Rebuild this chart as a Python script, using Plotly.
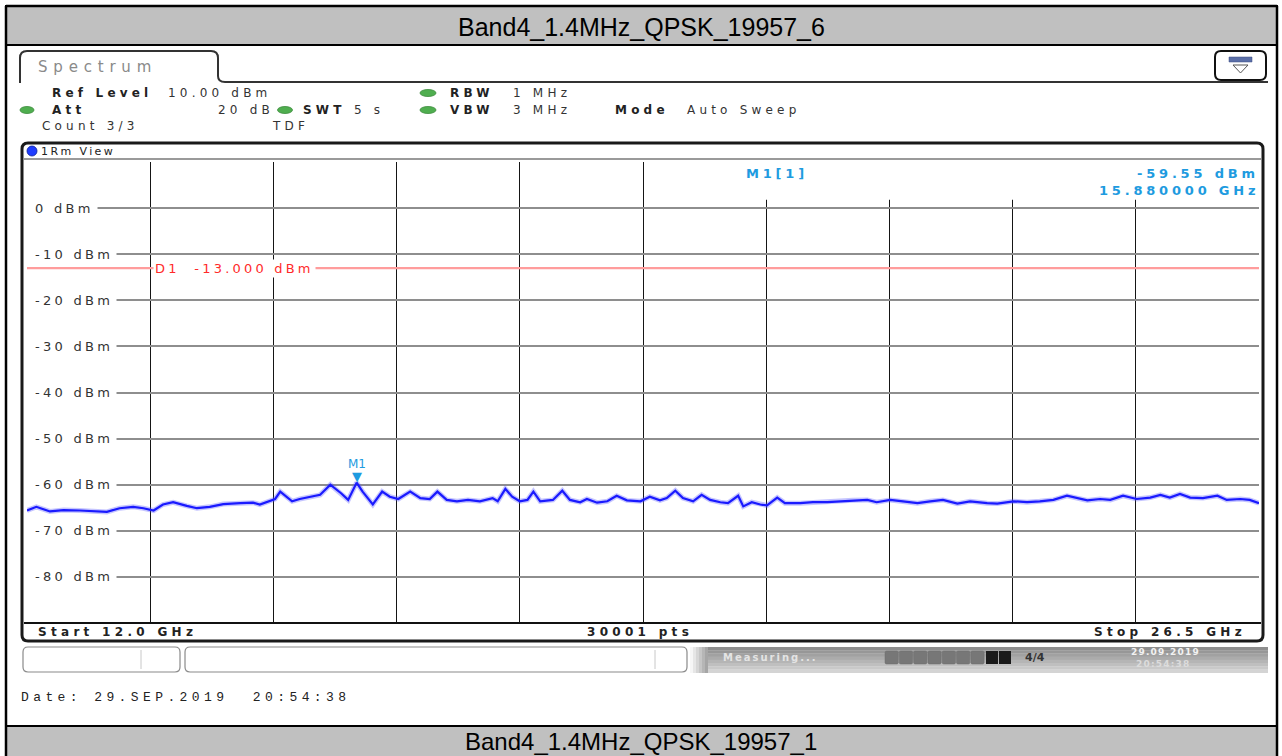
import plotly.graph_objects as go

# ---------------- data ----------------
freq_ghz = [12.00, 12.11, 12.27, 12.43, 12.62, 12.82, 12.94, 13.09, 13.25, 13.37, 13.49, 13.60, 13.72, 13.88,
            14.00, 14.15, 14.31, 14.51, 14.66, 14.74, 14.86, 14.92, 14.98, 15.06, 15.12, 15.21, 15.33, 15.45,
            15.57, 15.70, 15.78, 15.88, 15.95, 16.07, 16.18, 16.27, 16.37, 16.51, 16.63, 16.74, 16.83, 16.94,
            17.06, 17.19, 17.33, 17.48, 17.54, 17.63, 17.71, 17.80, 17.89, 17.96, 18.04, 18.19, 18.30, 18.39,
            18.51, 18.59, 18.71, 18.83, 18.94, 19.06, 19.22, 19.33, 19.45, 19.53, 19.63, 19.72, 19.84, 19.94,
            20.04, 20.16, 20.25, 20.37, 20.43, 20.53, 20.63, 20.71, 20.83, 20.92, 21.10, 21.25, 21.42, 21.57,
            21.72, 21.89, 22.00, 22.16, 22.31, 22.48, 22.63, 22.78, 22.95, 23.10, 23.30, 23.42, 23.61, 23.77,
            23.92, 24.08, 24.24, 24.36, 24.48, 24.63, 24.75, 24.90, 25.06, 25.22, 25.34, 25.45, 25.57, 25.69,
            25.84, 26.01, 26.12, 26.28, 26.39, 26.50]
level_dbm = [-65.6, -64.8, -65.8, -65.5, -65.6, -65.7, -65.9, -65.1, -64.8, -65.1, -65.6, -64.3, -63.8, -64.6,
             -65.1, -64.8, -64.2, -64.0, -63.9, -64.3, -63.6, -63.1, -61.5, -62.6, -63.6, -63.1, -62.6, -62.2,
             -60.0, -61.9, -63.3, -59.55, -61.5, -64.3, -61.5, -62.6, -63.1, -61.5, -62.9, -63.1, -61.5, -63.3,
             -63.6, -63.3, -63.6, -62.9, -63.6, -60.9, -62.6, -63.6, -63.3, -61.5, -63.6, -63.3, -61.3, -63.3,
             -63.8, -63.1, -63.9, -63.6, -62.4, -63.4, -63.6, -62.6, -63.4, -62.9, -61.3, -62.9, -63.6, -62.2,
             -63.3, -63.8, -64.0, -62.4, -64.7, -63.8, -64.3, -64.5, -62.8, -64.0, -64.0, -63.8, -63.8, -63.6,
             -63.4, -63.3, -63.8, -63.3, -63.6, -64.0, -63.6, -63.3, -64.1, -63.6, -64.0, -64.1, -63.6, -63.8,
             -63.6, -63.3, -62.4, -62.9, -63.4, -63.1, -63.3, -62.4, -63.1, -62.8, -62.2, -62.8, -62.0, -62.8,
             -62.9, -62.4, -63.3, -63.1, -63.3, -64.0]
y_tick_dbm = [0, -10, -20, -30, -40, -50, -60, -70, -80]
y_range_dbm = [-90, 10]
start_ghz = 12.0
stop_ghz = 26.5
n_divisions = 10
n_points = 30001
d1_level_dbm = -13.0
m1_freq_ghz = 15.88
m1_level_dbm = -59.55
title_top = "Band4_1.4MHz_QPSK_19957_6"
title_bottom = "Band4_1.4MHz_QPSK_19957_1"
date_text = "Date: 29.SEP.2019\u00a0\u00a020:54:38"

# ---------------- helpers ----------------
W, H = 1282, 756
shapes, annots = [], []


def PX(x):
    return x / W


def PY(y):
    return 1 - y / H


def rect(x0, y0, x1, y1, fill="rgba(0,0,0,0)", line="rgba(0,0,0,0)", lw=0, layer="above"):
    shapes.append(dict(type="rect", xref="paper", yref="paper", x0=PX(x0), x1=PX(x1), y0=PY(y1), y1=PY(y0),
                       fillcolor=fill, line=dict(color=line, width=lw), layer=layer))


def hline(x0, x1, y, color, lw):
    shapes.append(dict(type="line", xref="paper", yref="paper", x0=PX(x0), x1=PX(x1), y0=PY(y), y1=PY(y),
                       line=dict(color=color, width=lw)))


def vline(x, y0, y1, color, lw):
    shapes.append(dict(type="line", xref="paper", yref="paper", x0=PX(x), x1=PX(x), y0=PY(y0), y1=PY(y1),
                       line=dict(color=color, width=lw)))


def P(x, y):
    return f"{PX(x):.5f},{PY(y):.5f}"


def rrect(x0, y0, x1, y1, r, line="#222", lw=2, fill="rgba(0,0,0,0)"):
    path = (f"M{P(x0 + r, y0)} L{P(x1 - r, y0)} Q{P(x1, y0)} {P(x1, y0 + r)} L{P(x1, y1 - r)} "
            f"Q{P(x1, y1)} {P(x1 - r, y1)} L{P(x0 + r, y1)} Q{P(x0, y1)} {P(x0, y1 - r)} "
            f"L{P(x0, y0 + r)} Q{P(x0, y0)} {P(x0 + r, y0)} Z")
    shapes.append(dict(type="path", xref="paper", yref="paper", path=path, fillcolor=fill,
                       line=dict(color=line, width=lw)))


def dot(xc, yc, w, h, color="#4fae4f", edge="#3a8a3a"):
    shapes.append(dict(type="circle", xref="paper", yref="paper", x0=PX(xc - w / 2), x1=PX(xc + w / 2),
                       y0=PY(yc + h / 2), y1=PY(yc - h / 2), fillcolor=color, line=dict(color=edge, width=0.8)))


def txt(x, y, s, size=12, color="#222", bold=False, anchor="left", family="DejaVu Sans", ls=None, bg=None):
    t = s
    if ls:
        t = f'<span style="letter-spacing:{ls}px">{t}</span>'
    if bold:
        t = f"<b>{t}</b>"
    a = dict(xref="paper", yref="paper", x=PX(x), y=PY(y), text=t, showarrow=False, xanchor=anchor,
             yanchor="middle", font=dict(size=size, color=color, family=family), borderpad=0)
    if bg:
        a["bgcolor"] = bg
    annots.append(a)


# ---------------- frame / title bars ----------------
rect(6, 6, 1277, 45, fill="#c0c0c0", line="#000", lw=2)
rect(6, 726, 1277, 770, fill="#c0c0c0", line="#000", lw=2)
vline(6, 6, 756, "#000", 2.5)
vline(1277, 6, 756, "#000", 2.5)
hline(6, 1277, 6, "#000", 2.5)
txt(641, 27, title_top, size=25, color="#000", family="Liberation Sans, Arial")
annots[-1]["xanchor"] = "center"
txt(641, 741, title_bottom, size=24, color="#000", family="Liberation Sans, Arial")
annots[-1]["xanchor"] = "center"

# ---------------- Spectrum tab & header ----------------
tab = (f"M{P(20, 83)} L{P(20, 58)} Q{P(20, 51)} {P(27, 51)} L{P(211, 51)} Q{P(218, 51)} {P(218, 58)} "
       f"L{P(218, 76)} Q{P(218, 82)} {P(225, 82)} L{P(1268, 82)}")
shapes.append(dict(type="path", xref="paper", yref="paper", path=tab, line=dict(color="#333", width=2)))
txt(37, 67, "Spectrum", size=15, color="#8a8a8a", ls=5.8)
rrect(1215, 51, 1266, 80, 6, line="#111", lw=2, fill="#fff")
rect(1229, 57, 1252, 62, fill="#5b6fa8", line="#3c4e80", lw=0.5)
shapes.append(dict(type="path", xref="paper", yref="paper",
                   path=f"M{P(1233, 65)} L{P(1248, 65)} L{P(1240.5, 73)} Z",
                   fillcolor="#fff", line=dict(color="#555", width=1)))

ls_h = 4.2
txt(51, 93, "Ref Level", bold=True, ls=ls_h)
txt(167, 93, "10.00 dBm", color="#333", ls=ls_h)
dot(428, 93, 16, 7)
txt(449, 93, "RBW", bold=True, ls=ls_h)
txt(512, 93, "1 MHz", color="#333", ls=ls_h)

dot(27, 110, 14, 7)
txt(51, 110, "Att", bold=True, ls=ls_h)
txt(275, 110, "20 dB", color="#333", ls=ls_h, anchor="right")
dot(285, 110, 15, 7)
txt(302, 110, "SWT", bold=True, ls=ls_h)
txt(353, 110, "5 s", color="#333", ls=ls_h)
dot(428, 110, 16, 7)
txt(449, 110, "VBW", bold=True, ls=ls_h)
txt(512, 110, "3 MHz", color="#333", ls=ls_h)
txt(614, 110, "Mode", bold=True, ls=ls_h)
txt(686, 110, "Auto Sweep", color="#333", ls=ls_h)

txt(41, 126, "Count 3/3", color="#333", ls=ls_h)
txt(271, 126, "TDF", color="#333", ls=ls_h)

# ---------------- view box ----------------
rrect(22, 143, 1263, 641, 6, line="#1a1a1a", lw=3)
dot(32, 151, 10, 10, color="#1f3dff", edge="#0a1f9a")
txt(40, 151, "1Rm View", size=11, color="#222", ls=2.4)
hline(24, 1261, 159, "#9a9a9a", 2)
hline(24, 1261, 623, "#111", 2)

ls_b = 4.3
txt(37, 632, f"Start {start_ghz:.1f} GHz", bold=True, ls=ls_b)
txt(640, 632, f"{n_points} pts", bold=True, ls=ls_b)
annots[-1]["xanchor"] = "center"
txt(1247, 632, f"Stop {stop_ghz:.1f} GHz", bold=True, ls=ls_b, anchor="right")

# ---------------- status bar ----------------
rrect(23, 647, 180, 672, 5, line="#8a8a8a", lw=1.2, fill="#fff")
vline(141, 650, 669, "#c8c8c8", 1)
rrect(185, 647, 687, 672, 5, line="#8a8a8a", lw=1.2, fill="#fff")
vline(655, 650, 669, "#c8c8c8", 1)
grays = ["#8e8e8e", "#979797", "#a1a1a1", "#ababab", "#b5b5b5", "#bfbfbf", "#c9c9c9", "#d4d4d4"]
for i, g in enumerate(grays):
    rect(705, 647 + i * 3.2, 1268, 647 + (i + 1) * 3.2 + 0.3, fill=g)
fades = ["#f6f6f6", "#e6e6e6", "#d6d6d6", "#c6c6c6", "#b6b6b6", "#a6a6a6"]
for i, g in enumerate(fades):
    rect(690 + i * 3, 647, 693 + i * 3, 673, fill=g)
txt(722, 657, "Measuring...", size=10, color="#e4e4e4", bold=True, ls=2.0)
for i in range(7):
    rrect(885 + i * 14.3, 651, 884 + (i + 1) * 14.3, 664, 1.5, line="#6e6e6e", lw=0.5, fill="#777")
rect(986, 651, 998, 664, fill="#1a1a1a")
rect(999, 651, 1011, 664, fill="#1a1a1a")
txt(1024, 657, "4/4", size=11, color="#333", bold=True)
txt(1130, 652, "29.09.2019", size=9, color="#f2f2f2", bold=True, ls=1.2)
txt(1135, 664, "20:54:38", size=9, color="#dcdcdc", bold=True, ls=1.2)

# ---------------- date ----------------
txt(20, 697, date_text, size=13, color="#222", family="Liberation Mono, Courier New", ls=4.4)

# ---------------- plot ----------------
fig = go.Figure()
fig.add_trace(go.Scatter(x=freq_ghz, y=level_dbm, mode="lines", line=dict(color="rgba(90,90,255,0.35)", width=5),
                         hoverinfo="skip", showlegend=False))
fig.add_trace(go.Scatter(x=freq_ghz, y=level_dbm, mode="lines", line=dict(color="#1a1aff", width=2.2),
                         showlegend=False))

# cover upper right grid where marker readout is
shapes.append(dict(type="rect", xref="x", yref="y", x0=start_ghz + 5 * (stop_ghz - start_ghz) / n_divisions + 0.06,
                   x1=stop_ghz, y0=1.8, y1=y_range_dbm[1], fillcolor="#fff", line=dict(width=0), layer="between"))
# D1 display line
shapes.append(dict(type="line", xref="x", yref="y", x0=start_ghz, x1=stop_ghz, y0=d1_level_dbm, y1=d1_level_dbm,
                   line=dict(color="#ff9c9c", width=2.2), layer="between"))

# y tick labels (white patch hides the grid line left of each label)
for v in y_tick_dbm:
    shapes.append(dict(type="rect", xref="paper", yref="y", x0=PX(24.5), x1=PX(36), y0=v - 1.3, y1=v + 1.3,
                       fillcolor="#fff", line=dict(width=0), layer="above"))
    annots.append(dict(xref="paper", yref="y", x=PX(31), y=v,
                       text=f'<span style="letter-spacing:3.3px">{v} dBm</span>',
                       showarrow=False, xanchor="left", yanchor="middle", bgcolor="#fff", borderpad=3,
                       font=dict(size=13, color="#333", family="DejaVu Sans")))
# D1 label
annots.append(dict(xref="paper", yref="y", x=PX(153), y=d1_level_dbm,
                   text=f'<span style="letter-spacing:3.2px">D1&nbsp; {d1_level_dbm:.3f} dBm</span>',
                   showarrow=False, xanchor="left", yanchor="middle", bgcolor="#fff", borderpad=1,
                   font=dict(size=13, color="#ff2a2a", family="DejaVu Sans")))
# M1 marker
annots.append(dict(xref="x", yref="y", x=m1_freq_ghz, y=m1_level_dbm, text="\u25bc", showarrow=False,
                   xanchor="center", yanchor="bottom", yshift=-3,
                   font=dict(size=13, color="#1e9be0", family="DejaVu Sans")))
annots.append(dict(xref="x", yref="y", x=m1_freq_ghz, y=m1_level_dbm, text="M1", showarrow=False,
                   xanchor="center", yanchor="bottom", yshift=10,
                   font=dict(size=12, color="#1e9be0", family="DejaVu Sans")))
# M1 readout
txt(745, 173, "M1[1]", size=13, color="#1e9be0", bold=True, ls=3.8)
txt(1260, 173, f"{m1_level_dbm:.2f} dBm", size=13, color="#1e9be0", bold=True, ls=3.8, anchor="right")
txt(1260, 190, f"{m1_freq_ghz:.6f} GHz", size=13, color="#1e9be0", bold=True, ls=3.8, anchor="right")

fig.update_layout(
    width=W, height=H, autosize=False,
    margin=dict(l=0, r=0, t=0, b=0),
    paper_bgcolor="#fff", plot_bgcolor="#fff",
    shapes=shapes, annotations=annots,
    xaxis=dict(domain=[27 / W, 1259 / W], range=[start_ghz, stop_ghz], tick0=start_ghz,
               dtick=(stop_ghz - start_ghz) / n_divisions, showgrid=True, gridcolor="#151515", gridwidth=1.3,
               showticklabels=False, ticks="", zeroline=False, showline=False, fixedrange=True),
    yaxis=dict(domain=[1 - 623 / H, 1 - 162 / H], range=y_range_dbm, tick0=0, dtick=10, showgrid=True,
               gridcolor="#8e8e8e", gridwidth=1.8, showticklabels=False, ticks="", zeroline=False,
               showline=False, fixedrange=True),
    showlegend=False,
)
fig.write_html("out.html", config={"displayModeBar": False},
               post_script="document.body.style.margin='0px';document.body.style.padding='0px';")
